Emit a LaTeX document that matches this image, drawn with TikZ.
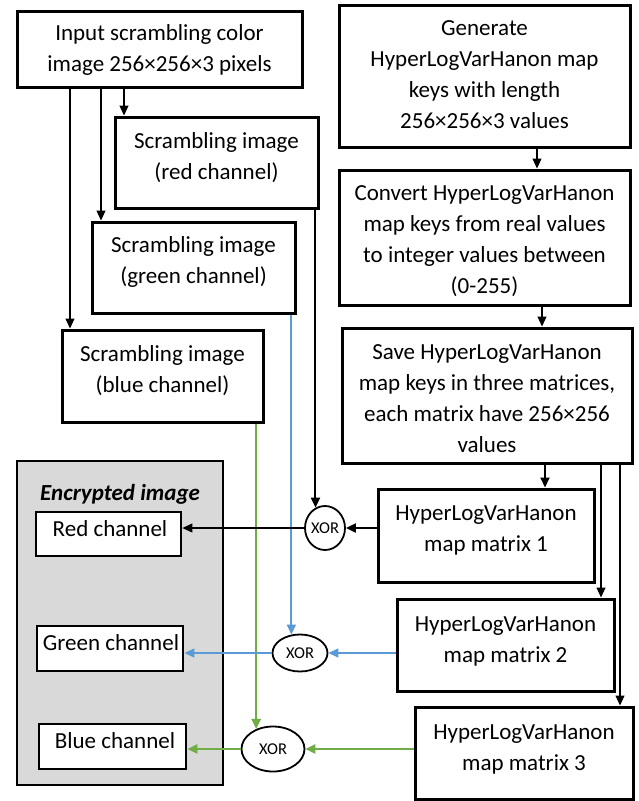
\documentclass[tikz,border=0pt]{standalone}
\usepackage{fontspec}
\setmainfont{Carlito}
\usetikzlibrary{arrows.meta,shapes.geometric,calc}
\definecolor{lblue}{HTML}{5B9BD5}
\definecolor{lgreen}{HTML}{70AD47}
\definecolor{panel}{HTML}{D9D9D9}
\begin{document}
\begin{tikzpicture}[x=1pt,y=-1pt,
  boxx/.style={draw,line width=3pt,rectangle,inner sep=0pt},
  chbox/.style={draw,fill=white,line width=2.8pt,rectangle,inner sep=0pt},
  txt/.style={align=center,font=\fontsize{23}{31}\selectfont,inner sep=0pt},
  xorn/.style={draw,ellipse,line width=1.8pt,fill=white,inner sep=0pt,font=\fontsize{16.5}{18}\selectfont},
  tip/.style={-{Triangle[length=10pt,width=9pt]}},
  thinarr/.style={tip,line width=1.1pt},
  midarr/.style={tip,line width=2pt},
]
\useasboundingbox (0,0) rectangle (638,801);
\fill[white] (0,0) rectangle (638,801);

% left column boxes
\node[boxx,minimum width=285pt,minimum height=76pt] (inb) at (159.5,49) {};
\node[txt] (inbt) at (159.5,50) {Input scrambling color\\image 256×256×3 pixels};

\node[boxx,minimum width=203pt,minimum height=91pt] (rs) at (216.5,162.5) {};
\node[txt] (rst) at (216.5,158) {Scrambling image\\(red channel)};

\node[boxx,minimum width=203pt,minimum height=91pt] (gs) at (193.5,267.5) {};
\node[txt] (gst) at (193.5,262) {Scrambling image\\(green channel)};

\node[boxx,minimum width=201pt,minimum height=92pt] (bs) at (162.5,376) {};
\node[txt] (bst) at (162.5,371) {Scrambling image\\(blue channel)};

% right column boxes
\node[boxx,minimum width=291pt,minimum height=142pt] (gen) at (484.5,76) {};
\node[txt] (gent) at (484.5,75) {Generate\\HyperLogVarHanon map\\keys with length\\256×256×3 values};

\node[boxx,minimum width=291pt,minimum height=135pt] (conv) at (484.5,237.5) {};
\node[txt] (convt) at (484.5,241) {Convert HyperLogVarHanon\\map keys from real values\\to integer values between\\(0-255)};

\node[boxx,minimum width=290pt,minimum height=135pt] (save) at (487,395.5) {};
\node[txt] (savet) at (487,399) {Save HyperLogVarHanon\\map keys in three matrices,\\each matrix have 256×256\\values};

\node[boxx,minimum width=216pt,minimum height=93pt] (m1) at (486,535.5) {};
\node[txt] (m1t) at (486,530) {HyperLogVarHanon\\map matrix 1};

\node[boxx,minimum width=217pt,minimum height=92pt] (m2) at (505.5,645) {};
\node[txt] (m2t) at (505.5,641) {HyperLogVarHanon\\map matrix 2};

\node[boxx,minimum width=218pt,minimum height=92pt] (m3) at (524,753) {};
\node[txt] (m3t) at (524,749) {HyperLogVarHanon\\map matrix 3};

% encrypted image panel
\node[draw,fill=panel,line width=2.8pt,minimum width=206pt,minimum height=324pt,inner sep=0pt] (panelbox) at (120,623) {};
\node[txt,font=\fontsize{23}{26}\selectfont\bfseries\itshape] (enct) at (120,494) {Encrypted image};

\node[chbox,minimum width=145pt,minimum height=44pt] (rc) at (108.5,534) {};
\node[txt] (rct) at (110,529) {Red channel};
\node[chbox,minimum width=146pt,minimum height=45pt] (gc) at (110,648.5) {};
\node[txt] (gct) at (111,643) {Green channel};
\node[chbox,minimum width=147pt,minimum height=45pt] (bc) at (112.5,746.5) {};
\node[txt] (bct) at (115,741) {Blue channel};

% XOR nodes
\node[xorn,minimum width=40pt,minimum height=44pt] (x1) at (325,528) {XOR};
\node[xorn,minimum width=55pt,minimum height=37pt] (x2) at (300,653) {XOR};
\node[xorn,minimum width=63pt,minimum height=45pt] (x3) at (273,749) {XOR};

% arrows from input image
\draw[thinarr] (inb.south -| 124,0) -- (rs.north -| 124,0);
\draw[thinarr] (inb.south -| 101,0) -- (gs.north -| 101,0);
\draw[thinarr] (inb.south -| 70,0) -- (bs.north -| 70,0);

% arrows down right column
\draw[thinarr] (gen.south -| 537,0) -- (conv.north -| 537,0);
\draw[thinarr] (conv.south -| 542,0) -- (save.north -| 542,0);
\draw[midarr] (save.south -| 545,0) -- (m1.north -| 545,0);
\draw[thinarr] (save.south -| 601,0) -- (m2.north -| 601,0);
\draw[thinarr] (save.south -| 620,0) -- (m3.north -| 620,0);

% channel paths
\draw[midarr] (rs.south -| x1.115) -- (x1.115);
\draw[midarr,lblue] (gs.south -| x2.115) -- (x2.115);
\draw[tip,line width=2.2pt,lgreen] (bs.south -| x3.130) -- (x3.130);

\draw[midarr] (m1.west |- x1.east) -- (x1.east);
\draw[thinarr] (x1.west) -- (rc.east |- x1.west);

\draw[tip,line width=1.3pt,lblue] (m2.west |- x2.east) -- (x2.east);
\draw[tip,line width=1.3pt,lblue] (x2.west) -- (gc.east |- x2.west);

\draw[tip,line width=2.8pt,lgreen] (m3.west |- x3.east) -- (x3.east);
\draw[tip,line width=2.8pt,lgreen] (x3.west) -- (bc.east |- x3.west);
\end{tikzpicture}
\end{document}
